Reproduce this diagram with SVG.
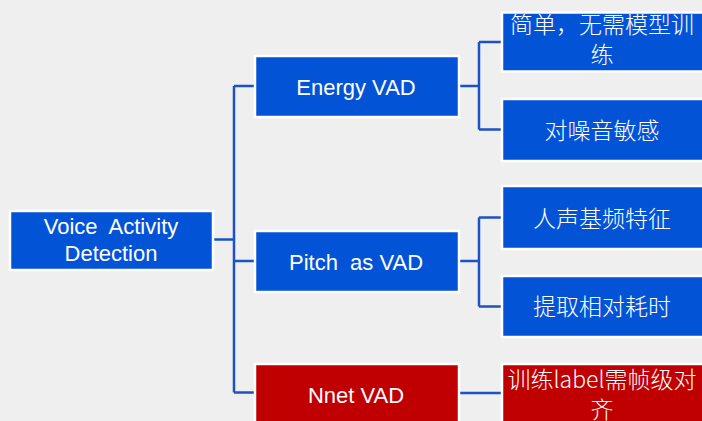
<svg xmlns="http://www.w3.org/2000/svg" width="702" height="421" viewBox="0 0 702 421">
<style>
.bg{fill:#efefef}
.box{stroke:#ffffff;stroke-width:2.5}
.blue{fill:#0353d7}
.red{fill:#c00000}
.lat{font-family:"Liberation Sans","Noto Sans CJK SC",sans-serif;font-size:22px;fill:#ffffff;text-anchor:middle}
.cjk{font-family:"Liberation Sans","Noto Sans CJK SC",sans-serif;font-size:23px;font-weight:300;fill:#ffffff;text-anchor:middle}
.lt{font-family:"Noto Sans CJK SC",sans-serif}
.conn{fill:none;stroke:#1c52c2;stroke-width:2.5}
</style>
<rect class="bg" x="0" y="0" width="702" height="421"/>
<g id="connectors">
<path class="conn" d="M213 239.5H234M234 86V392.5M234 86H255M234 261H255M234 392.5H255"/>
<path class="conn" d="M459 86H479M479 42V129.5M479 42H502M479 129.5H502"/>
<path class="conn" d="M459 261H479M479 217.5V306.5M479 217.5H502M479 306.5H502"/>
<path class="conn" d="M459 393H502"/>
</g>
<g id="root">
<rect class="box blue" x="10" y="211" width="203" height="59"/>
<text class="lat" x="111" y="234" xml:space="preserve">Voice  Activity</text>
<text class="lat" x="111" y="261">Detection</text>
</g>
<g id="energy">
<rect class="box blue" x="255" y="56" width="204" height="61"/>
<text class="lat" x="356" y="94.5">Energy VAD</text>
</g>
<g id="pitch">
<rect class="box blue" x="255" y="231" width="204" height="61"/>
<text class="lat" x="356" y="270" xml:space="preserve">Pitch  as VAD</text>
</g>
<g id="nnet">
<rect class="box red" x="255" y="364" width="204" height="64"/>
<text class="lat" x="356" y="402.5">Nnet VAD</text>
</g>
<g id="energy-simple">
<rect class="box blue" x="502" y="12.5" width="212" height="59"/>
<text class="cjk" x="602" y="33">简单，无需模型训</text>
<text class="cjk" x="602" y="63">练</text>
</g>
<g id="energy-noise">
<rect class="box blue" x="502" y="99" width="212" height="62"/>
<text class="cjk" x="602" y="139">对噪音敏感</text>
</g>
<g id="pitch-f0">
<rect class="box blue" x="502" y="186" width="212" height="63"/>
<text class="cjk" x="602" y="226.5">人声基频特征</text>
</g>
<g id="pitch-cost">
<rect class="box blue" x="502" y="276" width="212" height="61"/>
<text class="cjk" x="602" y="314.5">提取相对耗时</text>
</g>
<g id="nnet-label">
<rect class="box red" x="502" y="364" width="212" height="64"/>
<text class="cjk" x="602" y="387.5">训练<tspan class="lt">label</tspan>需帧级对</text>
<text class="cjk" x="602" y="418">齐</text>
</g>
</svg>
